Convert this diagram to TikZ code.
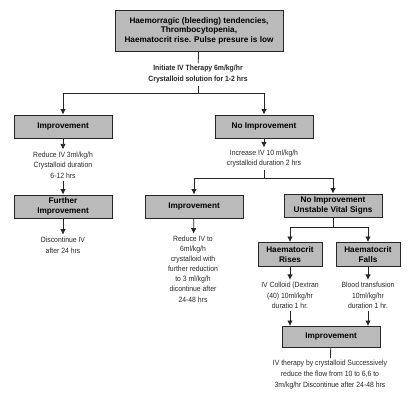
\documentclass[tikz,border=0pt]{standalone}
\usepackage{fontspec}
\setmainfont{Liberation Sans}
\newfontfamily\narrow[FakeStretch=0.9]{Liberation Sans}
\usetikzlibrary{arrows.meta}
\tikzset{
  box/.style={draw=black!85, line width=0.9pt, fill=black!27, font=\bfseries\fontsize{8.2}{9.6}\selectfont, align=center, minimum width=98pt, minimum height=23pt, inner sep=1pt},
  note/.style={font=\narrow\fontsize{7.6}{10.6}\selectfont, align=center, inner sep=2pt, text=black!85},
  bnote/.style={note, font=\narrow\bfseries\fontsize{7.6}{11}\selectfont},
  arr/.style={-{Latex[length=5.5pt,width=5.5pt]}, line width=0.8pt, draw=black!85},
  ln/.style={line width=0.8pt, draw=black!85}
}
\begin{document}
\begin{tikzpicture}[x=1pt,y=-1pt]
\useasboundingbox (0,0) rectangle (410,409);
\node[box, minimum width=168pt, minimum height=41pt] (top) at (199,30.5) {Haemorragic (bleeding) tendencies,\\Thrombocytopenia,\\Haematocrit rise. Pulse presure is low};
\node[bnote] (init) at (198,74.5) {Initiate IV Therapy 6m/kg/hr\\Crystalloid solution for 1-2 hrs};
\coordinate (j1) at (198,93);
\node[box] (impr1) at (63,126.5) {Improvement};
\node[box] (noimpr1) at (264,126.5) {No Improvement};
\node[note] (r1) at (63,165) {Reduce IV 3ml/kg/h\\Crystalloid duration\\6-12 hrs};
\node[box] (further) at (63,206.5) {Further\\Improvement};
\node[note] (d1) at (63,245) {Discontinue IV\\after 24 hrs};
\node[note] (inc) at (264,158.5) {Increase IV 10 ml/kg/h\\crystalloid duration 2 hrs};
\coordinate (j2) at (264,178);
\node[box] (impr2) at (194,206.5) {Improvement};
\node[box] (unst) at (333,205.5) {No Improvement\\Unstable Vital Signs};
\node[note, font=\narrow\fontsize{7.6}{10.1}\selectfont] (r2) at (193,269) {Reduce IV to\\6ml/kg/h\\crystalloid with\\further reduction\\to 3 ml/kg/h\\dicontinue after\\24-48 hrs};
\coordinate (j3) at (333,227);
\node[box, minimum width=64pt, minimum height=24pt] (hr) at (290,254.5) {Haematocrit\\Rises};
\node[box, minimum width=64pt, minimum height=24pt] (hf) at (368,254.5) {Haematocrit\\Falls};
\node[note] (c1) at (290,295.5) {IV Colloid (Dextran\\(40) 10ml/kg/hr\\duratio 1 hr.};
\node[note] (c2) at (368,295.5) {Blood transfusion\\10ml/kg/hr\\duration 1 hr.};
\node[box, minimum height=21pt] (imp3) at (331,337) {Improvement};
\node[note] (fin) at (330,374.5) {IV therapy by crystalloid Successively\\reduce the flow from 10 to 6,6 to\\3m/kg/hr Discontinue after 24-48 hrs};
% connectors
\draw[ln] (top) -- (init);
\draw[ln] (init) -- (j1);
\draw[arr] (j1) -| (impr1);
\draw[arr] (j1) -| (noimpr1);
\draw[arr] (impr1) -- (r1);
\draw[arr] (r1) -- (further);
\draw[arr] (further) -- (d1);
\draw[arr] (noimpr1) -- (inc);
\draw[ln] (inc) -- (j2);
\draw[arr] (j2) -| (impr2);
\draw[arr] (j2) -| (unst);
\draw[arr] (impr2) -- (r2);
\draw[ln] (unst) -- (j3);
\draw[arr] (j3) -| (hr);
\draw[arr] (j3) -| (hf);
\draw[arr] (hr) -- (c1);
\draw[arr] (hf) -- (c2);
\draw[arr] (c1) -- (c1 |- imp3.north);
\draw[arr] (c2) -- (c2 |- imp3.north);
\draw[ln] (imp3) -- (fin);
\end{tikzpicture}
\end{document}
